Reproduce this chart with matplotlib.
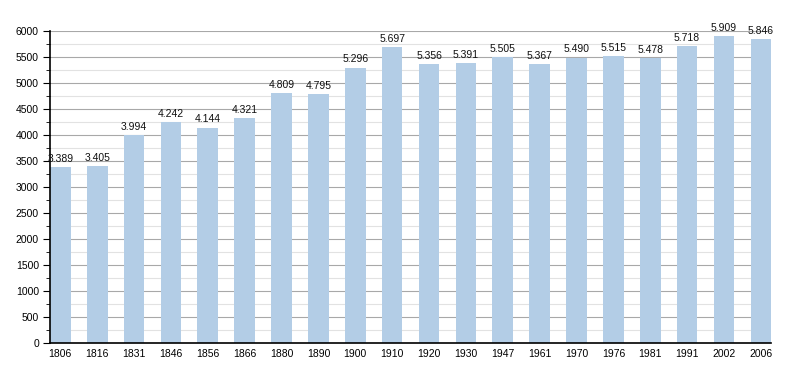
import matplotlib.pyplot as plt
from matplotlib.ticker import MultipleLocator

# population by census year
years = ['1806', '1816', '1831', '1846', '1856', '1866', '1880', '1890', '1900', '1910',
         '1920', '1930', '1947', '1961', '1970', '1976', '1981', '1991', '2002', '2006']
population = [3389, 3405, 3994, 4242, 4144, 4321, 4809, 4795, 5296, 5697,
              5356, 5391, 5505, 5367, 5490, 5515, 5478, 5718, 5909, 5846]

plt.rcParams['font.family'] = ['Liberation Sans', 'DejaVu Sans']

fig = plt.figure(figsize=(8, 3.73), dpi=100)
ax = fig.add_axes([0.0625, 0.0804, 0.9015, 0.8365])

w = 0.56
xs = range(len(years))
ax.bar(xs, population, width=w, color='#b3cde6', zorder=2)

for x, v in zip(xs, population):
    label = f'{v:,}'.replace(',', '.')
    ax.text(x, v + 60, label, ha='center', va='bottom', fontsize=7.5, color='#111111')

ax.set_xlim(-w / 2, len(years) - 1 + w / 2)
ax.set_ylim(0, 6000)
ax.yaxis.set_major_locator(MultipleLocator(500))
ax.yaxis.set_minor_locator(MultipleLocator(250))
ax.grid(which='major', axis='y', color='#a8a8a8', linewidth=0.8, zorder=0)
ax.grid(which='minor', axis='y', color='#e2e2e2', linewidth=0.8, zorder=0)
ax.set_axisbelow(True)

ax.set_xticks(list(xs))
ax.set_xticklabels(years, fontsize=7.5)
ax.tick_params(axis='x', length=0, pad=4)
ax.tick_params(axis='y', which='major', length=5, labelsize=7.5, pad=3)
ax.tick_params(axis='y', which='minor', length=3)

for s in ['top', 'right']:
    ax.spines[s].set_visible(False)
ax.spines['left'].set_linewidth(1.2)
ax.spines['bottom'].set_linewidth(1.2)

fig.savefig('out.png', dpi=100)
